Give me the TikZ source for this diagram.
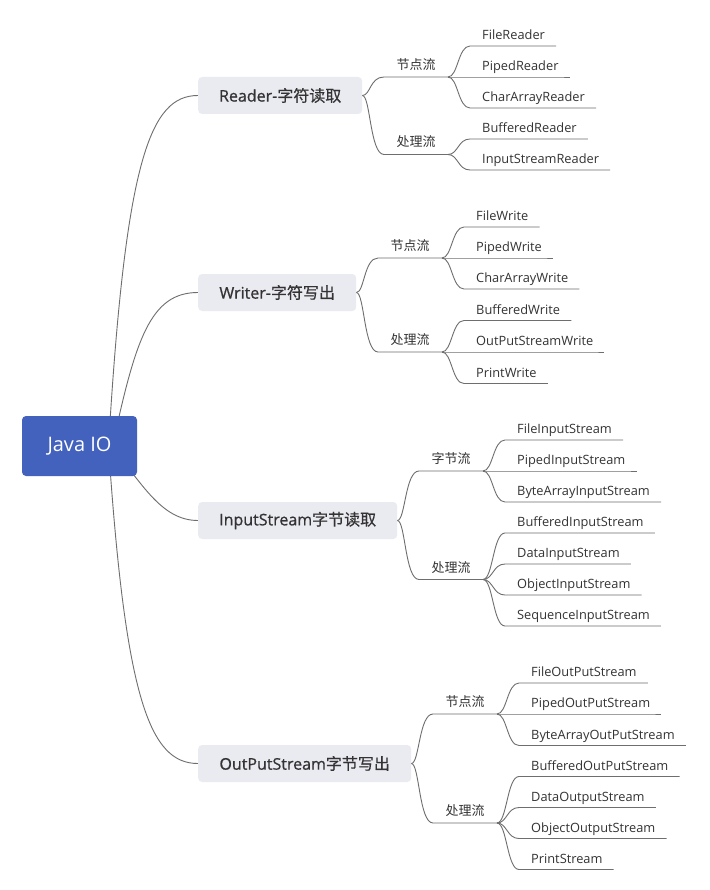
\documentclass[tikz,border=0pt]{standalone}
\usepackage{fontspec}
\setmainfont{Open Sans}
\newfontfamily\cjk{Noto Sans CJK SC}
\newfontfamily\branchfont[FakeBold=0.8]{Open Sans}
\newfontfamily\branchcjk[FakeBold=0.6]{Noto Sans CJK SC}
\usetikzlibrary{calc}
\definecolor{rootblue}{HTML}{4262BD}
\definecolor{boxgray}{HTML}{EAEAF1}
\definecolor{linegray}{HTML}{6E6E6E}
\definecolor{txt}{HTML}{333333}
\pgfdeclarelayer{back}
\pgfdeclarelayer{bg}
\pgfsetlayers{back,bg,main}
\tikzset{
  rootbox/.style={fill=rootblue, rounded corners=4pt, minimum width=115, minimum height=60, text=white, font=\fontsize{20}{24}\selectfont, inner sep=0},
  branchbox/.style={fill=boxgray, rounded corners=4pt, minimum height=37, text=txt, font=\branchfont\fontsize{16}{19}\selectfont, inner sep=0, anchor=west},
  sublabel/.style={text=txt, font=\cjk\fontsize{13}{15}\selectfont, anchor=base, inner sep=0},
  leaflabel/.style={text=txt, font=\fontsize{12.8}{15}\selectfont, anchor=base west, inner sep=0},
  conn/.style={draw=linegray, line width=0.9pt},
}
% #1 name, #2 branch node, #3 start x, #4 end x, #5 underline y, #6 text
\newcommand\mmsub[6]{%
  \coordinate (#1s) at (#3,#5);
  \coordinate (#1e) at (#4,#5);
  \node[sublabel] (#1) at ({(#3+#4)/2},#5-7.5) {#6};
  \draw[conn] (#2.east) .. controls ($(#2.east)+(8,0)$) and ($(#1s)+(-14,0)$) .. (#1s) -- (#1e);
}
% #1 name, #2 parent end coordinate, #3 start x, #4 underline y, #5 text
\newcommand\mmleaf[5]{%
  \coordinate (#1s) at (#3,#4);
  \node[leaflabel] (#1) at (#3+12,#4-6.5) {#5};
  \draw[conn] (#2) .. controls ($(#2)+(10,0)$) and ($(#1s)+(-12,0)$) .. (#1s) -- (#1s -| #1.east) -- ++(11,0);
}
\begin{document}
\begin{tikzpicture}[x=1pt,y=-1pt]
\begin{pgfonlayer}{back}
\fill[white] (0,0) rectangle (709,890);
\end{pgfonlayer}
\useasboundingbox (0,0) rectangle (709,890);

\node[rootbox] (root) at (79.5,446) {Java IO};

\node[branchbox, minimum width=164] (reader) at (198,95.5) {Reader-{\branchcjk 字符读取}};
\node[branchbox, minimum width=158] (writer) at (198,292.5) {Writer-{\branchcjk 字符写出}};
\node[branchbox, minimum width=199] (input) at (198,520.5) {InputStream{\branchcjk 字节读取}};
\node[branchbox, minimum width=213] (output) at (198,763.5) {OutPutStream{\branchcjk 字节写出}};

\begin{pgfonlayer}{bg}
\draw[conn] ($(root.center)+(29,0)$) .. controls ($(root.center)+(46,-286)$) and ($(reader.west)+(-48,0)$) .. (reader.west);
\draw[conn] ($(root.center)+(33,0)$) .. controls ($(root.center)+(56,-106)$) and ($(writer.west)+(-48,0)$) .. (writer.west);
\draw[conn] ($(root.center)+(31,0)$) .. controls ($(root.center)+(61,34)$) and ($(input.west)+(-38,0)$) .. (input.west);
\draw[conn] ($(root.center)+(29,0)$) .. controls ($(root.center)+(46,254)$) and ($(output.west)+(-48,0)$) .. (output.west);
\end{pgfonlayer}

% Reader
\mmsub{ra}{reader}{384}{448}{77}{节点流}
\mmleaf{raa}{rae}{470}{46}{FileReader}
\mmleaf{rab}{rae}{470}{77}{PipedReader}
\mmleaf{rac}{rae}{470}{108}{CharArrayReader}
\mmsub{rb}{reader}{384}{448}{154.5}{处理流}
\mmleaf{rba}{rbe}{470}{139}{BufferedReader}
\mmleaf{rbb}{rbe}{470}{170}{InputStreamReader}

% Writer
\mmsub{wa}{writer}{378}{442}{258}{节点流}
\mmleaf{waa}{wae}{464}{227}{FileWrite}
\mmleaf{wab}{wae}{464}{258}{PipedWrite}
\mmleaf{wac}{wae}{464}{289}{CharArrayWrite}
\mmsub{wb}{writer}{378}{442}{352}{处理流}
\mmleaf{wba}{wbe}{464}{320.5}{BufferedWrite}
\mmleaf{wbb}{wbe}{464}{352}{OutPutStreamWrite}
\mmleaf{wbc}{wbe}{464}{383.5}{PrintWrite}

% InputStream
\mmsub{ia}{input}{419}{483}{471}{字节流}
\mmleaf{iaa}{iae}{505}{440}{FileInputStream}
\mmleaf{iab}{iae}{505}{471}{PipedInputStream}
\mmleaf{iac}{iae}{505}{502}{ByteArrayInputStream}
\mmsub{ib}{input}{419}{483}{579.5}{处理流}
\mmleaf{iba}{ibe}{505}{533}{BufferedInputStream}
\mmleaf{ibb}{ibe}{505}{564}{DataInputStream}
\mmleaf{ibc}{ibe}{505}{595}{ObjectInputStream}
\mmleaf{ibd}{ibe}{505}{626}{SequenceInputStream}

% OutPutStream
\mmsub{oa}{output}{433}{497}{714}{节点流}
\mmleaf{oaa}{oae}{519}{683}{FileOutPutStream}
\mmleaf{oab}{oae}{519}{714}{PipedOutPutStream}
\mmleaf{oac}{oae}{519}{745.5}{ByteArrayOutPutStream}
\mmsub{ob}{output}{433}{497}{823}{处理流}
\mmleaf{oba}{obe}{519}{776.5}{BufferedOutPutStream}
\mmleaf{obb}{obe}{519}{807.5}{DataOutputStream}
\mmleaf{obc}{obe}{519}{838.5}{ObjectOutputStream}
\mmleaf{obd}{obe}{519}{869.5}{PrintStream}
\end{tikzpicture}
\end{document}
